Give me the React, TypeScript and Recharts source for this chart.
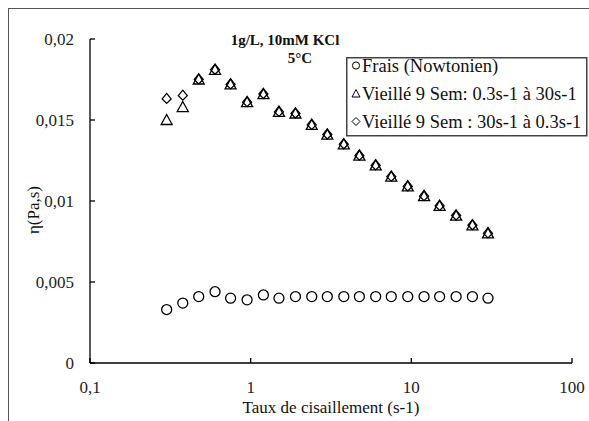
import { ScatterChart, Scatter, XAxis, YAxis } from 'recharts';

// shear rate (s-1), log spaced sweep
const shearRate = [0.3, 0.378, 0.475, 0.6, 0.75, 0.95, 1.2, 1.5, 1.9, 2.4, 3, 3.8, 4.75, 6, 7.5, 9.5, 12, 15, 19, 24, 30];

// viscosity (Pa.s)
const fresh = [0.0033, 0.0037, 0.0041, 0.0044, 0.004, 0.0039, 0.0042, 0.004, 0.0041, 0.0041, 0.0041, 0.0041, 0.0041, 0.0041, 0.0041, 0.0041, 0.0041, 0.0041, 0.0041, 0.0041, 0.004];
const agedUp = [0.015, 0.0158, 0.0175, 0.0181, 0.0172, 0.0161, 0.0166, 0.0155, 0.0154, 0.0147, 0.0141, 0.0135, 0.0128, 0.0122, 0.0115, 0.0109, 0.0103, 0.0097, 0.0091, 0.0085, 0.008];
const agedDown = [0.0163, 0.0165, 0.0175, 0.0181, 0.0172, 0.0161, 0.0166, 0.0155, 0.0154, 0.0147, 0.0141, 0.0135, 0.0128, 0.0122, 0.0115, 0.0109, 0.0103, 0.0097, 0.0091, 0.0085, 0.008];

const seriesNames = ['Frais (Nowtonien)', 'Vieillé 9 Sem: 0.3s-1 à 30s-1', 'Vieillé 9 Sem : 30s-1 à 0.3s-1'];
const xTicks = [0.1, 1, 10, 100];
const yTicks = [0, 0.005, 0.01, 0.015, 0.02];

const toPoints = (vals: number[]) => shearRate.map((x, i) => ({ x, y: vals[i] }));

const FONT = 'Liberation Serif, Times New Roman, serif';
const INK = '#000';

const circleShape = (props: any) => (
  <circle cx={props.cx} cy={props.cy} r={5} fill="none" stroke={INK} strokeWidth={1.3} />
);
const triangleShape = (props: any) => {
  const { cx, cy } = props;
  return (
    <polygon
      points={`${cx},${cy - 5.5} ${cx - 5.5},${cy + 4.5} ${cx + 5.5},${cy + 4.5}`}
      fill="none"
      stroke={INK}
      strokeWidth={1.3}
    />
  );
};
const diamondShape = (props: any) => {
  const { cx, cy } = props;
  return (
    <polygon
      points={`${cx},${cy - 5.5} ${cx + 4.5},${cy} ${cx},${cy + 4.5} ${cx - 4.5},${cy}`}
      fill="none"
      stroke={INK}
      strokeWidth={1.3}
    />
  );
};

// small legend glyphs centred on (cx, cy)
const legendIcon = (i: number, cx: number, cy: number) => {
  if (i === 0) return <circle cx={cx} cy={cy} r={3.6} fill="none" stroke={INK} strokeWidth={1} />;
  if (i === 1)
    return <polygon points={`${cx},${cy - 4} ${cx - 4},${cy + 3.5} ${cx + 4},${cy + 3.5}`} fill="none" stroke={INK} strokeWidth={1} />;
  return <polygon points={`${cx},${cy - 4} ${cx + 4},${cy} ${cx},${cy + 4} ${cx - 4},${cy}`} fill="none" stroke={INK} strokeWidth={1} />;
};

const fmt = (v: number) => String(v).replace('.', ',');

// y tick: inward tick mark plus label on the left
const YTick = (props: any) => {
  const { x, y, payload } = props;
  return (
    <g>
      <line x1={x + 16} x2={x + 21} y1={y} y2={y} stroke={INK} strokeWidth={1.3} />
      <text x={x} y={y} dy="0.35em" textAnchor="end" fill="#222" fontSize={17} fontFamily={FONT}>
        {fmt(payload.value)}
      </text>
    </g>
  );
};

// x tick: inward tick mark plus label below
const XTick = (props: any) => {
  const { x, y, payload } = props;
  return (
    <g>
      <line x1={x} x2={x} y1={y - 18} y2={y - 23} stroke={INK} strokeWidth={1.3} />
      <text x={x} y={y} dy="0.71em" textAnchor="middle" fill="#222" fontSize={17} fontFamily={FONT}>
        {fmt(payload.value)}
      </text>
    </g>
  );
};

export default function App() {
  return (
    <div style={{ position: 'absolute', left: 0, top: 0, width: 589, height: 421, background: '#fff', overflow: 'hidden' }}>
      <div
        style={{
          position: 'absolute',
          left: 8,
          top: 8,
          width: 600,
          height: 430,
          borderLeft: '1.5px solid #555',
          borderTop: '1.5px solid #555',
        }}
      />
      <div style={{ position: 'absolute', left: 0, top: 0 }}>
        <ScatterChart width={589} height={421} margin={{ top: 39, right: 17, bottom: 0, left: 0 }}>
          <XAxis
            type="number"
            dataKey="x"
            scale="log"
            domain={[0.1, 100]}
            ticks={xTicks}
            allowDataOverflow
            height={58}
            tickSize={0}
            tickMargin={18}
            tickLine={false}
            axisLine={{ stroke: INK, strokeWidth: 1.3 }}
            tick={XTick}
            label={{ value: 'Taux de cisaillement (s-1)', position: 'insideBottom', offset: 8, fill: '#111', fontSize: 17, fontFamily: FONT }}
          />
          <YAxis
            type="number"
            dataKey="y"
            domain={[0, 0.02]}
            ticks={yTicks}
            width={90}
            tickSize={0}
            tickMargin={16}
            tickLine={false}
            axisLine={{ stroke: INK, strokeWidth: 1.3 }}
            tick={YTick}
            label={{ value: 'η(Pa,s)', angle: -90, position: 'center', dx: -12, dy: 9, fill: '#111', fontSize: 17, fontFamily: FONT }}
          />
          <Scatter name={seriesNames[0]} data={toPoints(fresh)} shape={circleShape} isAnimationActive={false} />
          <Scatter name={seriesNames[1]} data={toPoints(agedUp)} shape={triangleShape} isAnimationActive={false} />
          <Scatter name={seriesNames[2]} data={toPoints(agedDown)} shape={diamondShape} isAnimationActive={false} />
        </ScatterChart>
      </div>
      <svg width={589} height={421} style={{ position: 'absolute', left: 0, top: 0 }}>
        <rect x={346.75} y={57.75} width={240} height={78} fill="#fff" stroke="#444" strokeWidth={1.5} />
        {seriesNames.map((name, i) => {
          const cy = 65.5 + i * 28;
          return (
            <g key={name}>
              {legendIcon(i, 356, cy)}
              <text x={362} y={cy + 6} fontSize={18.5} fontFamily={FONT} fill="#111">
                {name}
              </text>
            </g>
          );
        })}
        <text x={285} y={45} textAnchor="middle" fontSize={15} fontWeight="bold" fontFamily={FONT} fill="#111">
          1g/L, 10mM KCl
        </text>
        <text x={300} y={63} textAnchor="middle" fontSize={15} fontWeight="bold" fontFamily={FONT} fill="#111">
          5°C
        </text>
      </svg>
    </div>
  );
}
